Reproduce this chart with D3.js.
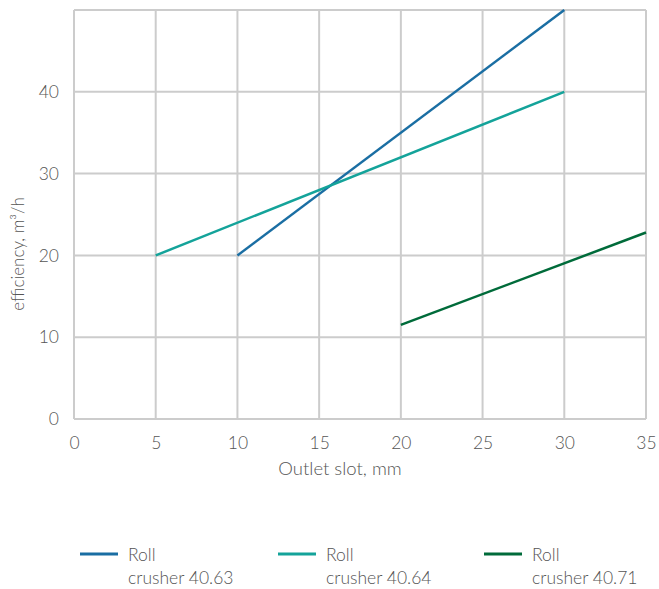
<!DOCTYPE html>
<html><head><meta charset="utf-8">
<script src="https://cdn.jsdelivr.net/npm/d3@7"></script>
<style>
body{margin:0;background:#fff;}
text{font-family:Lato,"Open Sans",sans-serif;font-weight:300;fill:#555555;}
</style></head>
<body><svg id="c" width="659" height="589"></svg>
<script>
const xTicks = [0,5,10,15,20,25,30,35];
const yTicks = [0,10,20,30,40];
const seriesNames = ["Roll\ncrusher 40.63","Roll\ncrusher 40.64","Roll\ncrusher 40.71"];
const seriesColors = ["#1a6ea3","#14a39a","#006b3a"];
const s1 = [[10,20],[30,50]];
const s2 = [[5,20],[30,40]];
const s3 = [[20,11.5],[35,22.8]];
const series = [s1,s2,s3];

const svg = d3.select("#c");
const x = d3.scaleLinear().domain([0,35]).range([74,646]);
const y = d3.scaleLinear().domain([0,50]).range([419,10]);

const grid = svg.append("g");
grid.selectAll("line.v").data(xTicks).join("line")
  .attr("x1",d=>x(d)).attr("x2",d=>x(d)).attr("y1",y(50)).attr("y2",y(0))
  .attr("stroke","#cccccc").attr("stroke-width",2);
grid.selectAll("line.h").data([0,10,20,30,40,50]).join("line")
  .attr("x1",x(0)).attr("x2",x(35)).attr("y1",d=>y(d)).attr("y2",d=>y(d))
  .attr("stroke","#cccccc").attr("stroke-width",2);

const xAxis = svg.append("g").attr("transform",`translate(0,${y(0)})`)
  .call(d3.axisBottom(x).tickValues(xTicks).tickSize(0).tickPadding(18));
const yAxis = svg.append("g").attr("transform",`translate(${x(0)},0)`)
  .call(d3.axisLeft(y).tickValues(yTicks).tickSize(0).tickPadding(15));
[xAxis,yAxis].forEach(a=>{a.select(".domain").remove();
  a.selectAll("text").attr("font-size",17.5).attr("font-family","Lato").attr("fill","#555555");});

svg.append("text").attr("x",340).attr("y",475).attr("text-anchor","middle")
  .attr("font-size",18.5).text("Outlet slot, mm");
svg.append("text").attr("transform","translate(24,254) rotate(-90)").attr("text-anchor","middle")
  .attr("font-size",17).text("efficiency, m³/h");

const line = d3.line().x(d=>x(d[0])).y(d=>y(d[1]));
series.forEach((s,i)=>{
  svg.append("path").datum(s).attr("d",line).attr("fill","none")
    .attr("stroke",seriesColors[i]).attr("stroke-width",2.5);
});

const legX = [80,278,484];
seriesNames.forEach((n,i)=>{
  const g = svg.append("g").attr("transform",`translate(${legX[i]},0)`);
  g.append("line").attr("x1",0).attr("x2",38).attr("y1",554).attr("y2",554)
    .attr("stroke",seriesColors[i]).attr("stroke-width",3);
  n.split("\n").forEach((t,j)=>{
    g.append("text").attr("x",48).attr("y",561+j*23).attr("font-size",17.5).text(t);
  });
});
</script></body></html>
